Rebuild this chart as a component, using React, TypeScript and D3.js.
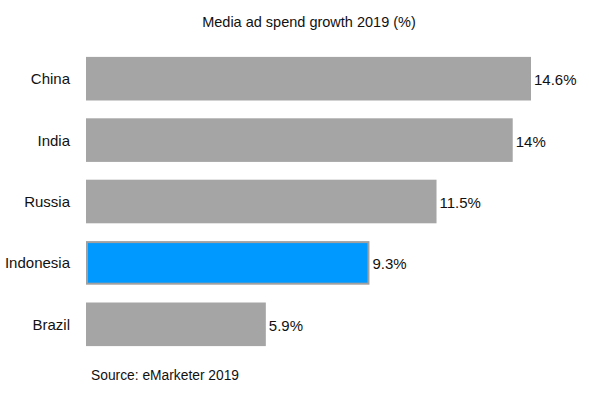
import * as d3 from "d3";

const COUNTRIES = ["China", "India", "Russia", "Indonesia", "Brazil"];
const GROWTH = [14.6, 14, 11.5, 9.3, 5.9];
const VALUE_LABELS = ["14.6%", "14%", "11.5%", "9.3%", "5.9%"];
const HIGHLIGHT = "Indonesia";

const WIDTH = 589;
const HEIGHT = 393;
const FONT = "'Liberation Sans', Arial, Helvetica, sans-serif";

export default function App() {
  const x = d3.scaleLinear().domain([0, 14.6]).range([86, 531]);
  const y = d3
    .scaleBand<string>()
    .domain(COUNTRIES)
    .range([48, 355])
    .paddingInner(0.29)
    .paddingOuter(0.145);

  return (
    <svg
      width={WIDTH}
      height={HEIGHT}
      style={{ position: "absolute", left: 0, top: 0, background: "#fff" }}
      fontFamily={FONT}
    >
      <text x={309} y={27} textAnchor="middle" fontSize={14.5} fill="#111">
        Media ad spend growth 2019 (%)
      </text>
      {COUNTRIES.map((c, i) => {
        const y0 = y(c)!;
        const hi = c === HIGHLIGHT;
        const cy = y0 + y.bandwidth() / 2;
        return (
          <g key={c}>
            <rect
              x={x(0) + (hi ? 1 : 0)}
              y={y0 + (hi ? 1 : 0)}
              width={x(GROWTH[i]) - x(0) - (hi ? 2 : 0)}
              height={y.bandwidth() - (hi ? 2 : 0)}
              fill={hi ? "#0099ff" : "#a5a5a5"}
              stroke={hi ? "#a0a0a0" : "none"}
              strokeWidth={hi ? 2 : 0}
            />
            <text
              x={70}
              y={cy}
              textAnchor="end"
              dominantBaseline="central"
              fontSize={15}
              fill="#111"
            >
              {c}
            </text>
            <text
              x={x(GROWTH[i]) + 3}
              y={cy + 1}
              dominantBaseline="central"
              fontSize={15}
              fill="#111"
            >
              {VALUE_LABELS[i]}
            </text>
          </g>
        );
      })}
      <text x={91} y={380} fontSize={13.8} fill="#111">
        Source: eMarketer 2019
      </text>
    </svg>
  );
}
